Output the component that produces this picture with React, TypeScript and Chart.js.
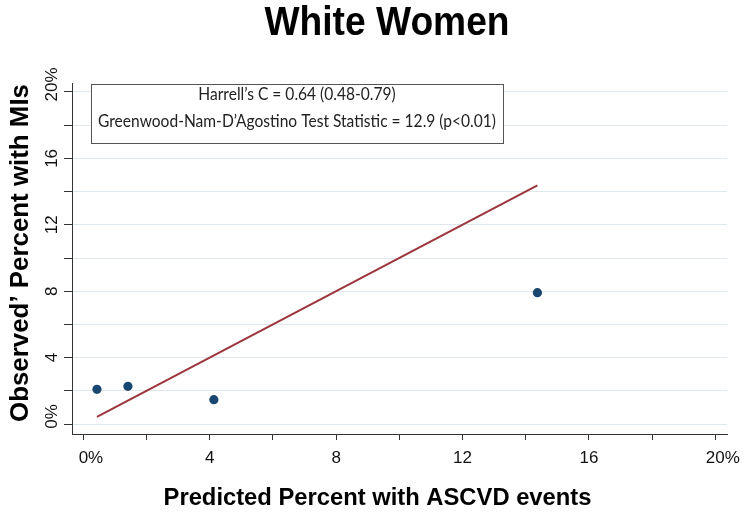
import React, { useEffect, useRef } from "react";
import { Chart, registerables } from "chart.js";

Chart.register(...registerables);

// ---------- data ----------
const TITLE = "White Women";
const X_TITLE = "Predicted Percent with ASCVD events";
const Y_TITLE = "Observed’ Percent with MIs";
const BOX_LINES = [
  "Harrell’s C = 0.64 (0.48-0.79)",
  "Greenwood-Nam-D’Agostino Test Statistic = 12.9 (p<0.01)",
];

const PREDICTED = [0.43, 1.41, 4.13, 14.37];
const OBSERVED = [2.09, 2.27, 1.47, 7.91];

const REF_X = [0.43, 14.37];
const REF_Y = [0.43, 14.37];

const TICK_VALUES = [0, 2, 4, 6, 8, 10, 12, 14, 16, 18, 20];
const LABELED_TICKS = [0, 4, 8, 12, 16, 20];
const TICK_LABELS = ["0%", "4", "8", "12", "16", "20%"];

const X_MIN = -0.36;
const X_MAX = 20.37;
const Y_MIN = -0.6;
const Y_MAX = 20.54;

// ---------- styles ----------
const NAVY = "#1a476f";
const MAROON = "#9c343c";
const GRID = "#dfe8ed";
const AXIS = "#333333";
const SANS = "'Liberation Sans', Arial, sans-serif";
const BOX_FONT = "Lato, 'Open Sans', sans-serif";

function fitSize(ctx: CanvasRenderingContext2D, text: string, weight: string, family: string, target: number) {
  ctx.font = `${weight} 100px ${family}`;
  const w = ctx.measureText(text).width;
  return (100 * target) / w;
}

// draw text at a given font size, squeezed horizontally to a target width (centered)
function drawSqueezed(ctx: CanvasRenderingContext2D, text: string, font: string, cx: number, baseY: number, targetW: number) {
  ctx.font = font;
  const w = ctx.measureText(text).width;
  const k = Math.min(1, targetW / w);
  ctx.save();
  ctx.translate(cx, baseY);
  ctx.scale(k, 1);
  ctx.textAlign = "center";
  ctx.fillText(text, 0, 0);
  ctx.restore();
  return k;
}

const textPlugin = {
  id: "customTexts",
  afterDraw(chart: any) {
    const ctx: CanvasRenderingContext2D = chart.ctx;
    const xs = chart.scales.x;
    const ys = chart.scales.y;
    ctx.save();
    ctx.fillStyle = "#000";
    ctx.textBaseline = "alphabetic";

    // Title
    drawSqueezed(ctx, TITLE, `bold 40px ${SANS}`, 387, 34.5, 245);

    // X axis title
    let s = fitSize(ctx, X_TITLE, "bold", SANS, 428);
    ctx.font = `bold ${s}px ${SANS}`;
    ctx.textAlign = "center";
    ctx.fillText(X_TITLE, 377.5, 505);

    // Y axis title
    s = fitSize(ctx, Y_TITLE, "bold", SANS, 338);
    ctx.font = `bold ${s}px ${SANS}`;
    ctx.save();
    ctx.translate(28, 253);
    ctx.rotate(-Math.PI / 2);
    ctx.textAlign = "center";
    ctx.fillText(Y_TITLE, 0, 0);
    ctx.restore();

    // Tick labels
    ctx.font = `17px ${SANS}`;
    ctx.fillStyle = "#111";
    ctx.textAlign = "left";
    LABELED_TICKS.forEach((v, i) => {
      const label = TICK_LABELS[i];
      const num = label.replace("%", "");
      const nw = ctx.measureText(num).width;
      const px = xs.getPixelForValue(v);
      ctx.fillText(label, px - nw / 2, 462.5);

      const py = ys.getPixelForValue(v);
      ctx.save();
      ctx.translate(56.5, py);
      ctx.rotate(-Math.PI / 2);
      ctx.fillText(label, -nw / 2, 0);
      ctx.restore();
    });

    // Annotation box
    const bx = 91, by = 84, bw = 412, bh = 59;
    ctx.fillStyle = "#ffffff";
    ctx.fillRect(bx, by, bw, bh);
    ctx.strokeStyle = "#555555";
    ctx.lineWidth = 1;
    ctx.strokeRect(bx + 0.5, by + 0.5, bw, bh);
    ctx.fillStyle = "#222";
    const boxFont = `16.5px ${BOX_FONT}`;
    ctx.font = boxFont;
    const w2 = ctx.measureText(BOX_LINES[1]).width;
    const k = Math.min(1, 398 / w2);
    ctx.save();
    ctx.translate(bx + bw / 2, 0);
    ctx.scale(k, 1);
    ctx.textAlign = "center";
    ctx.fillText(BOX_LINES[0], 0, 99.5);
    ctx.fillText(BOX_LINES[1], 0, 126.7);
    ctx.restore();

    ctx.restore();
  },
};

export default function App() {
  const ref = useRef<HTMLCanvasElement>(null);

  useEffect(() => {
    const canvas = ref.current;
    if (!canvas) return;
    const chart = new Chart(canvas, {
      type: "scatter",
      data: {
        datasets: [
          {
            type: "line",
            data: REF_X.map((x, i) => ({ x, y: REF_Y[i] })),
            borderColor: MAROON,
            borderWidth: 2,
            pointRadius: 0,
            fill: false,
            tension: 0,
            order: 2,
          } as any,
          {
            type: "scatter",
            data: PREDICTED.map((x, i) => ({ x, y: OBSERVED[i] })),
            backgroundColor: NAVY,
            borderColor: NAVY,
            borderWidth: 0,
            pointRadius: 4.6,
            pointHoverRadius: 4.6,
            order: 1,
          } as any,
        ],
      },
      options: {
        responsive: false,
        animation: false,
        devicePixelRatio: 1,
        events: [],
        layout: { padding: { left: 64, right: 27, top: 83, bottom: 73 } },
        plugins: {
          legend: { display: false },
          title: { display: false },
          tooltip: { enabled: false },
        },
        scales: {
          x: {
            type: "linear",
            position: "bottom",
            min: X_MIN,
            max: X_MAX,
            afterBuildTicks: (sc: any) => {
              sc.ticks = TICK_VALUES.map((v) => ({ value: v }));
            },
            ticks: { display: false },
            grid: {
              display: true,
              drawOnChartArea: false,
              drawTicks: true,
              tickLength: 6,
              tickColor: AXIS,
              tickWidth: 1,
            },
            border: { display: true, color: AXIS, width: 1 },
          },
          y: {
            type: "linear",
            position: "left",
            min: Y_MIN,
            max: Y_MAX,
            afterBuildTicks: (sc: any) => {
              sc.ticks = TICK_VALUES.map((v) => ({ value: v }));
            },
            ticks: { display: false },
            grid: {
              display: true,
              drawOnChartArea: true,
              color: GRID,
              lineWidth: 1,
              drawTicks: true,
              tickLength: 8,
              tickColor: AXIS,
              tickWidth: 1,
            },
            border: { display: true, color: AXIS, width: 1 },
          },
        },
      } as any,
      plugins: [textPlugin],
    });
    return () => chart.destroy();
  }, []);

  return (
    <div style={{ position: "absolute", left: 0, top: 0, width: 754, height: 513, background: "#fff" }}>
      <canvas ref={ref} width={754} height={513} style={{ display: "block" }} />
    </div>
  );
}
